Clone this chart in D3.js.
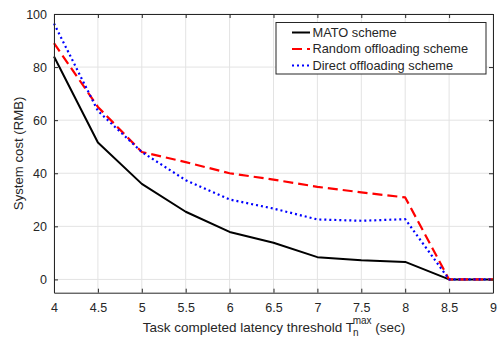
<!DOCTYPE html>
<html><head><meta charset="utf-8">
<script src="https://cdn.jsdelivr.net/npm/d3@7"></script>
<style>body{margin:0;background:#fff}svg{display:block}text{font-family:"Liberation Sans",Arial,sans-serif;fill:#262626}</style>
</head><body><svg id="c" width="497" height="337"></svg>
<script>
const xVals = [4, 4.5, 5, 5.5, 6, 6.5, 7, 7.5, 8, 8.5, 9];
const mato = [84, 51.6, 36, 25.5, 17.9, 13.8, 8.4, 7.2, 6.6, 0, 0];
const randomOff = [89, 65, 48, 44.2, 40, 37.6, 34.9, 32.8, 30.9, 0, 0];
const directOff = [96.4, 63.5, 48, 37.4, 30.1, 26.7, 22.6, 22.1, 22.7, 0, 0];
const xTicks = [4, 4.5, 5, 5.5, 6, 6.5, 7, 7.5, 8, 8.5, 9];
const yTicks = [0, 20, 40, 60, 80, 100];
const seriesNames = ["MATO scheme", "Random offloading scheme", "Direct offloading scheme"];

const svg = d3.select("#c");
const L = 54, R = 493, T = 14, B = 292.7;
const x = d3.scaleLinear().domain([4, 9]).range([L, R]);
const y = d3.scaleLinear().domain([-5, 100]).range([B, T]);
const axisColor = "#262626";

// grid
svg.append("g").selectAll("line").data(xTicks).join("line")
  .attr("x1", d => x(d)).attr("x2", d => x(d)).attr("y1", T).attr("y2", B)
  .attr("stroke", "#e3e3e3").attr("stroke-width", 1);
svg.append("g").selectAll("line").data(yTicks).join("line")
  .attr("x1", L).attr("x2", R).attr("y1", d => y(d)).attr("y2", d => y(d))
  .attr("stroke", "#e3e3e3").attr("stroke-width", 1);

// series
const line = d3.line().x((d, i) => x(xVals[i])).y(d => y(d));
const specs = [
  {data: mato, color: "#000000", dash: null, w: 2},
  {data: randomOff, color: "#ff0000", dash: "10,5", w: 2.2},
  {data: directOff, color: "#0000ff", dash: "2,3", w: 2.2}
];
specs.forEach(s => {
  svg.append("path").datum(s.data).attr("d", line)
    .attr("fill", "none").attr("stroke", s.color).attr("stroke-width", s.w)
    .attr("stroke-dasharray", s.dash).attr("stroke-linejoin", "round");
});

// axes
const xb = svg.append("g").attr("transform", `translate(0,${B})`)
  .call(d3.axisBottom(x).tickValues(xTicks).tickSizeInner(-4).tickSizeOuter(0).tickPadding(10).tickFormat(d3.format("")));
const xt = svg.append("g").attr("transform", `translate(0,${T})`)
  .call(d3.axisTop(x).tickValues(xTicks).tickSizeInner(-4).tickSizeOuter(0).tickFormat(""));
const yl = svg.append("g").attr("transform", `translate(${L},0)`)
  .call(d3.axisLeft(y).tickValues(yTicks).tickSizeInner(-4).tickSizeOuter(0).tickPadding(7));
const yr = svg.append("g").attr("transform", `translate(${R},0)`)
  .call(d3.axisRight(y).tickValues(yTicks).tickSizeInner(-4).tickSizeOuter(0).tickFormat(""));
[xb, xt, yl, yr].forEach(g => {
  g.selectAll("path").attr("stroke", axisColor).attr("stroke-width", 1);
  g.selectAll("line").attr("stroke", axisColor);
  g.selectAll("text").attr("font-size", 12.5).attr("fill", axisColor)
    .style("font-family", '"Liberation Sans",Arial,sans-serif');
});

// axis labels
const xl = svg.append("text").attr("x", 274).attr("y", 332).attr("text-anchor", "middle").attr("font-size", 13.5);
xl.append("tspan").text("Task completed latency threshold T");
xl.append("tspan").attr("font-size", 10).attr("dx", -1).attr("dy", 4).text("n");
xl.append("tspan").attr("font-size", 10).attr("dx", -6).attr("dy", -12).text("max");
xl.append("tspan").attr("dy", 8).text(" (sec)");
svg.append("text").attr("transform", `translate(23,${(T + B) / 2}) rotate(-90)`)
  .attr("text-anchor", "middle").attr("font-size", 13.2).text("System cost (RMB)");

// legend
const lg = svg.append("g");
lg.append("rect").attr("x", 276).attr("y", 22.5).attr("width", 210).attr("height", 51.5)
  .attr("fill", "#fff").attr("stroke", axisColor).attr("stroke-width", 1);
const rowsY = [32.5, 49, 65.5];
specs.forEach((s, i) => {
  lg.append("line").attr("x1", 292).attr("x2", 310).attr("y1", rowsY[i]).attr("y2", rowsY[i])
    .attr("stroke", s.color).attr("stroke-width", s.w).attr("stroke-dasharray", s.dash);
  lg.append("text").attr("x", 312.5).attr("y", rowsY[i]).attr("dy", "0.35em")
    .attr("font-size", 12.8).text(seriesNames[i]);
});
</script></body></html>
